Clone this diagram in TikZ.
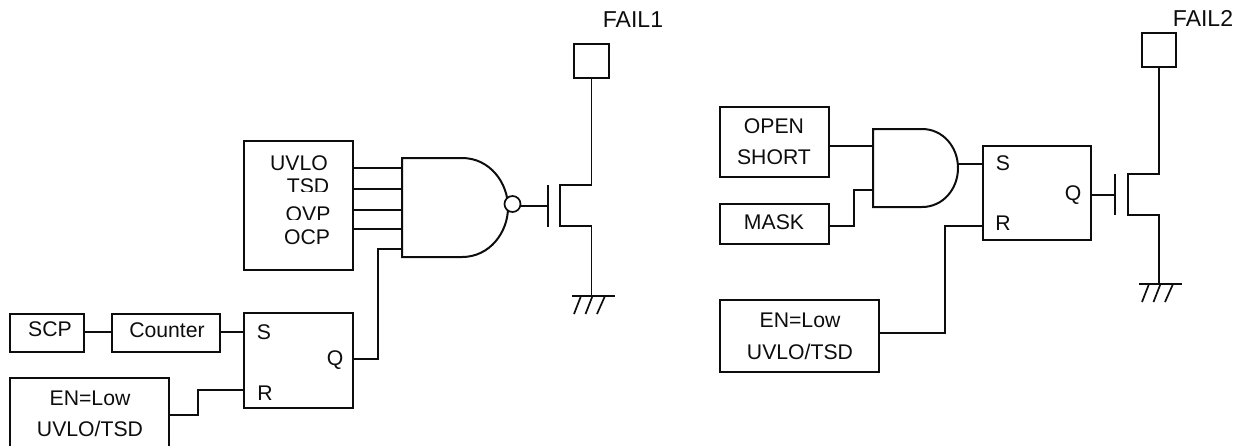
\documentclass[tikz,border=0pt]{standalone}
\usepackage{fontspec}
\setmainfont{Liberation Sans}
\usetikzlibrary{calc}
\tikzset{
  x=1pt,y=-1pt,
  wire/.style={line width=1.7pt,line join=miter,draw=black!95},
  heavy/.style={line width=2pt,line join=miter,draw=black!95},
  box/.style={rectangle,draw=black!95,line width=2pt,inner sep=0pt,outer sep=0pt,anchor=north west},
  lbl/.style={inner sep=0pt,text=black!95,font=\fontsize{21.2}{24}\selectfont},
  biglbl/.style={inner sep=0pt,text=black!95,font=\fontsize{23}{26}\selectfont},
  dot/.style={circle,draw=black!95,fill=white,line width=1.7pt,minimum size=16pt,inner sep=0pt,outer sep=0pt},
}
\newcommand{\boxat}[5]{\node[box,minimum width=#4pt,minimum height=#5pt] (#1) at (#2,#3) {};}
\begin{document}
\begin{tikzpicture}
\path[use as bounding box] (0,0) rectangle (1234,445);
\clip (0,0) rectangle (1234,445);
% left part boxes
\boxat{faults}{244}{141}{109}{129}
\boxat{scp}{10}{314}{74}{38}
\boxat{counter}{112}{314}{108}{38}
\boxat{ffa}{244}{313}{109}{95}
\boxat{ena}{10}{378}{159}{72}
\boxat{pada}{574}{44}{35}{34}
% left labels
\node[lbl] (tuvlo) at (299,163) {UVLO};
\node[lbl] (ttsd) at (308,186) {TSD};
\fill[white] (285,192) rectangle (335,205);
\node[lbl] (tovp) at (308,214) {OVP};
\fill[white] (285,220) rectangle (335,226);
\node[lbl] (tocp) at (307,237) {OCP};
\node[lbl] (tscp) at (50,329) {SCP};
\node[lbl] (tcounter) at (167,330) {Counter};
\node[lbl] (tsa) at (264,332) {S};
\node[lbl] (tqa) at (335,360) {Q};
\node[lbl] (tra) at (265,393) {R};
\node[lbl] (tena) at (90,398) {EN=Low};
\node[lbl] (tuta) at (90,429) {UVLO/TSD};
\node[biglbl] (tfa) at (633,20) {FAIL1};
% NAND gate
\draw[heavy] (462,158) -- (402,158) -- (402,257) -- (462,257)
  .. controls (490,257) and (508,232) .. (508,207.5)
  .. controls (508,183) and (490,158) .. (462,158);
\coordinate (nin1) at (402,168);
\coordinate (nin2) at (402,189);
\coordinate (nin3) at (402,210);
\coordinate (nin4) at (402,229);
\coordinate (nin5) at (402,249);
\node[dot] (bub) at (512.5,204) {};
\draw[wire] (faults.east |- nin1) -- (nin1);
\draw[wire] (faults.east |- nin2) -- (nin2);
\draw[wire] (faults.east |- nin3) -- (nin3);
\draw[wire] (faults.east |- nin4) -- (nin4);
\coordinate (qa) at (353,359);
\coordinate (sa) at (244,332);
\coordinate (ra) at (244,390);
\draw[wire] (qa) -- (378,359) -- (378,249) -- (nin5);
\draw[wire] (scp.east |- sa) -- (counter.west |- sa);
\draw[wire] (counter.east |- sa) -- (sa);
\draw[wire] (ena.east |- 0,415) -- (198,415) -- (198,390) -- (ra);
% left MOSFET
\coordinate (ga) at (548,206);
\draw[wire] (bub.east |- ga) -- (ga);
\draw[wire] (548,185) -- (548,227);
\draw[wire] (pada.south) -- (pada.south |- 0,185) -- (560,185) -- (560,226) -- (pada.south |- 0,226) -- (pada.south |- 0,296);
\draw[wire] (572,296) -- (615,296);
\draw[wire] (581,296) -- (574,314) (592.5,296) -- (585.5,314) (605,296) -- (597,314);
% right part boxes
\boxat{open}{720}{107}{109}{70}
\boxat{mask}{720}{204}{109}{40}
\boxat{enb}{720}{300}{159}{72}
\boxat{ffb}{983}{146}{108}{94}
\boxat{padb}{1142}{33}{34}{34}
\node[lbl] (topen) at (774,126) {OPEN};
\node[lbl] (tshort) at (774,157) {SHORT};
\node[lbl] (tmask) at (774,222) {MASK};
\node[lbl] (tenb) at (800,320) {EN=Low};
\node[lbl] (tutb) at (800,352) {UVLO/TSD};
\node[lbl] (tsb) at (1003,163) {S};
\node[lbl] (tqb) at (1073,195) {Q};
\node[lbl] (trb) at (1003,223) {R};
\node[biglbl] (tfb) at (1203,18) {FAIL2};
% AND gate
\draw[heavy] (922,129) -- (873,129) -- (873,207) -- (922,207)
  .. controls (943,207) and (958,189) .. (958,168)
  .. controls (958,147) and (943,129) .. (922,129);
\coordinate (ain1) at (873,146);
\coordinate (ain2) at (873,190);
\coordinate (aout) at (958,164);
\coordinate (sb) at (983,164);
\coordinate (rb) at (983,226);
\draw[wire] (open.east |- ain1) -- (ain1);
\draw[wire] (mask.east |- rb) -- (854,226) -- (854,190) -- (ain2);
\draw[wire] (aout) -- (sb);
\draw[wire] (enb.east |- 0,333) -- (945,333) -- (945,226) -- (rb);
% right MOSFET
\coordinate (gb) at (1115,195);
\draw[wire] (ffb.east |- gb) -- (gb);
\draw[wire] (1115,174) -- (1115,215);
\draw[wire] (padb.south) -- (padb.south |- 0,174) -- (1128,174) -- (1128,215) -- (padb.south |- 0,215) -- (padb.south |- 0,284);
\draw[wire] (1139,284) -- (1182,284);
\draw[wire] (1149,284) -- (1142,302) (1160.5,284) -- (1153.5,302) (1173,284) -- (1165,302);
\end{tikzpicture}
\end{document}
